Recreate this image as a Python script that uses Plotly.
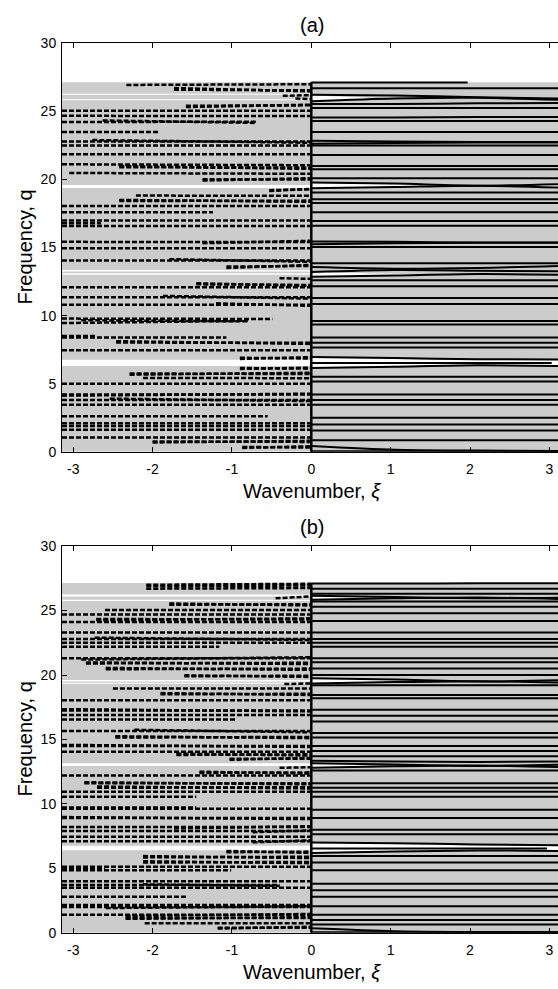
import numpy as np
import plotly.graph_objects as go

PI = np.pi
XI_RANGE = [-PI, 3.109]
Q_RANGE = [0, 30]
BAND_TOP = 27.15
RE_XI = [0.0, 1.05, 2.1, PI]
XTICKS = [-3, -2, -1, 0, 1, 2, 3]
YTICKS = [0, 5, 10, 15, 20, 25, 30]

# ---------------- panel (a) ----------------
# evanescent branches: (xi_left, xi_right, q_left, q_right)
A_IM = [
    (-2.33, 0, 26.95, 27.0),
    (-1.73, 0, 26.6, 26.55), (-1.73, 0, 26.72, 26.48),
    (-0.36, 0, 26.15, 26.2),
    (-0.2, 0, 25.95, 25.9),
    (-1.58, 0, 25.42, 25.45), (-1.58, 0, 25.32, 25.5),
    (-PI, 0, 25.05, 25.05),
    (-PI, 0, 24.68, 24.66),
    (-PI, -0.7, 24.22, 24.25), (-2.63, -0.7, 24.34, 24.16),
    (-PI, -1.91, 23.5, 23.5),
    (-PI, 0, 22.8, 22.8), (-2.76, 0, 22.9, 22.7),
    (-PI, 0, 22.5, 22.5),
    (-PI, 0, 21.85, 21.85),
    (-PI, 0, 21.12, 21.05),
    (-2.42, 0, 20.9, 20.88), (-2.42, 0, 20.98, 20.78),
    (-3.05, 0, 20.48, 20.42),
    (-1.37, 0, 20.02, 20.0), (-1.37, 0, 19.92, 20.1),
    (-0.53, 0, 19.22, 19.28), (-0.53, 0, 19.15, 19.32),
    (-2.21, 0, 18.82, 18.8),
    (-2.42, 0, 18.42, 18.45), (-2.42, 0, 18.5, 18.36),
    (-PI, 0, 18.05, 18.05),
    (-PI, -1.24, 17.6, 17.6),
    (-PI, 0, 16.98, 16.98), (-PI, -2.65, 16.78, 16.78), (-PI, 0, 16.58, 16.58),
    (-PI, 0, 15.42, 15.4), (-1.37, 0, 15.32, 15.5),
    (-PI, 0, 14.95, 14.95),
    (-PI, 0, 14.05, 14.05), (-1.79, 0, 14.15, 13.95),
    (-1.07, 0, 13.6, 13.65), (-1.07, 0, 13.5, 13.72),
    (-0.4, 0, 12.75, 12.7),
    (-1.45, 0, 12.3, 12.25), (-1.45, 0, 12.38, 12.18),
    (-PI, 0, 12.08, 12.08),
    (-PI, 0, 11.35, 11.35), (-1.87, 0, 11.45, 11.25),
    (-PI, 0, 10.8, 10.8), (-1.2, 0, 10.9, 10.72),
    (-PI, -0.49, 9.78, 9.75),
    (-PI, -0.8, 9.45, 9.62), (-2.9, -0.8, 9.66, 9.58),
    (-PI, -1.07, 8.4, 8.4), (-PI, -2.7, 8.5, 8.5),
    (-2.46, 0, 8.02, 8.0), (-2.46, 0, 8.12, 7.92),
    (-PI, 0, 7.45, 7.45),
    (-0.9, 0, 6.9, 6.85), (-0.9, 0, 6.82, 6.95),
    (-0.9, 0, 6.15, 6.1), (-0.9, 0, 6.08, 6.18),
    (-2.29, 0, 5.75, 5.7), (-2.29, 0, 5.66, 5.8),
    (-2.12, 0, 5.42, 5.4),
    (-PI, 0, 5.0, 5.0),
    (-PI, 0, 4.2, 4.2), (-PI, 0, 4.12, 4.26),
    (-PI, 0, 3.8, 3.8), (-2.54, 0, 3.9, 3.72),
    (-PI, 0, 3.45, 3.45),
    (-PI, -0.55, 2.6, 2.6),
    (-PI, 0, 2.1, 2.1), (-PI, 0, 1.88, 1.88), (-PI, 0, 1.62, 1.62),
    (-PI, 0, 1.05, 1.05),
    (-2.0, 0, 0.75, 0.72), (-2.0, 0, 0.68, 0.8),
    (-0.87, 0, 0.35, 0.3), (-0.87, 0, 0.28, 0.4),
]

# propagating branches: q at RE_XI
A_RE = [
    (26.7, 26.7, 26.7, 26.7),
    (26.22, 26.18, 26.05, 25.95),
    (25.75, 25.95, 26.0, 25.85),
    (25.55, 25.55, 25.6, 25.62),
    (25.25, 25.25, 25.25, 25.25),
    (24.55, 24.55, 24.6, 24.6),
    (24.3, 24.3, 24.3, 24.3),
    (23.5, 23.5, 23.5, 23.5),
    (22.85, 22.8, 22.75, 22.75),
    (22.62, 22.68, 22.72, 22.72),
    (22.5, 22.5, 22.5, 22.5),
    (21.8, 21.8, 21.8, 21.8),
    (21.0, 21.0, 21.0, 21.0),
    (20.75, 20.75, 20.75, 20.75),
    (20.1, 20.1, 20.1, 20.1),
    (19.78, 19.7, 19.55, 19.66),
    (19.36, 19.45, 19.55, 19.4),
    (19.05, 19.05, 19.05, 19.05),
    (18.55, 18.55, 18.55, 18.55),
    (18.27, 18.27, 18.27, 18.27),
    (17.6, 17.6, 17.6, 17.6),
    (16.95, 16.95, 16.95, 16.95),
    (16.6, 16.6, 16.6, 16.6),
    (15.45, 15.42, 15.38, 15.38),
    (15.25, 15.32, 15.36, 15.36),
    (15.05, 15.05, 15.05, 15.05),
    (13.85, 13.85, 13.85, 13.85),
    (13.57, 13.45, 13.5, 13.65),
    (13.2, 13.35, 13.3, 13.25),
    (12.85, 12.95, 13.05, 13.0),
    (12.6, 12.6, 12.6, 12.6),
    (12.15, 12.15, 12.15, 12.15),
    (11.3, 11.3, 11.3, 11.3),
    (10.85, 10.85, 10.85, 10.85),
    (9.6, 9.6, 9.6, 9.6),
    (9.35, 9.35, 9.35, 9.35),
    (8.4, 8.4, 8.4, 8.4),
    (8.0, 8.0, 8.0, 8.0),
    (7.65, 7.65, 7.65, 7.65),
    (6.95, 6.88, 6.8, 6.78),
    (6.15, 6.25, 6.35, 6.3),
    (5.5, 5.5, 5.5, 5.5),
    (5.15, 5.15, 5.15, 5.15),
    (4.2, 4.2, 4.2, 4.2),
    (3.8, 3.8, 3.8, 3.8),
    (3.45, 3.45, 3.45, 3.45),
    (2.5, 2.5, 2.5, 2.5),
    (2.0, 2.0, 2.0, 2.0),
    (1.55, 1.55, 1.55, 1.55),
    (0.85, 0.85, 0.85, 0.85),
    (0.42, 0.14, 0.08, 0.06),
    (0.04, 0.04, 0.04, 0.04),
]
# propagating branches that stop before the zone edge: (xi_end, q)
A_RE_SHORT = [(1.97, 27.12), (3.03, 6.52)]

# stop bands: (xi, q_lower, q_upper)
A_GAPS = [
    ([-PI, 0], [26.22, 26.22], [26.3, 26.3]),
    ([-PI, 0], [25.82, 25.82], [25.9, 25.9]),
    ([0, 0.9], [25.78, 25.98], [26.18, 25.98]),
    ([-PI, 0], [19.38, 19.38], [19.6, 19.6]),
    ([0, 1.95], [19.4, 19.55], [19.75, 19.55]),
    ([2.5, PI], [19.5, 19.44], [19.5, 19.62]),
    ([-PI, 0], [13.0, 13.0], [13.12, 13.12]),
    ([-PI, 0], [13.25, 13.25], [13.35, 13.35]),
    ([0, 1.6], [12.88, 13.02], [13.17, 13.02]),
    ([-PI, 0], [6.3, 6.3], [6.75, 6.75]),
    ([0, 1.0, 2.0, PI], [6.2, 6.3, 6.4, 6.35], [6.9, 6.8, 6.72, 6.72]),
]

# ---------------- panel (b) ----------------
B_IM = [
    (-2.08, 0, 27.0, 27.08), (-2.08, 0, 26.88, 26.95),
    (-2.08, 0, 26.7, 26.75),
    (-0.45, 0, 25.95, 26.1),
    (-1.79, 0, 25.45, 25.5), (-1.79, 0, 25.55, 25.4),
    (-2.6, 0, 25.05, 25.05),
    (-PI, 0, 24.7, 24.7),
    (-2.71, 0, 24.35, 24.3), (-2.71, 0, 24.25, 24.4),
    (-PI, 0, 24.12, 24.12),
    (-PI, 0, 23.3, 23.3),
    (-PI, 0, 22.8, 22.8), (-2.73, 0, 22.9, 22.72),
    (-PI, 0, 22.5, 22.5),
    (-PI, -1.16, 22.2, 22.2),
    (-PI, 0, 21.3, 21.3), (-2.9, 0, 21.2, 21.38),
    (-2.84, 0, 20.9, 20.95), (-2.84, 0, 20.98, 20.85),
    (-2.59, 0, 20.45, 20.5), (-2.59, 0, 20.55, 20.4),
    (-1.6, 0, 19.9, 19.95), (-1.6, 0, 19.98, 19.85),
    (-0.34, 0, 19.3, 19.35),
    (-2.5, 0, 18.95, 18.95),
    (-1.9, 0, 18.5, 18.55), (-1.9, 0, 18.6, 18.45),
    (-PI, 0, 18.05, 18.05),
    (-PI, 0, 17.25, 17.25), (-PI, 0, 17.35, 17.18),
    (-PI, 0, 16.9, 16.9),
    (-PI, -0.95, 16.55, 16.55),
    (-PI, 0, 15.65, 15.65), (-2.23, 0, 15.75, 15.55),
    (-2.47, 0, 15.15, 15.2), (-2.47, 0, 15.25, 15.1),
    (-PI, 0, 14.5, 14.5), (-PI, 0, 14.58, 14.42),
    (-PI, 0, 14.05, 14.05),
    (-1.7, 0, 13.8, 13.85), (-1.7, 0, 13.9, 13.75),
    (-1.03, 0, 13.5, 13.5), (-1.03, 0, 13.42, 13.58),
    (-0.4, 0, 12.8, 12.85),
    (-1.41, 0, 12.4, 12.45), (-1.41, 0, 12.5, 12.35),
    (-PI, 0, 12.2, 12.2),
    (-2.86, 0, 11.6, 11.6), (-2.86, 0, 11.68, 11.52),
    (-2.7, 0, 11.25, 11.3), (-2.7, 0, 11.35, 11.2),
    (-PI, 0, 10.95, 10.95),
    (-PI, -1.45, 10.55, 10.55),
    (-PI, 0, 9.62, 9.62), (-PI, -1.45, 9.72, 9.72),
    (-PI, 0, 8.9, 8.9), (-PI, 0, 8.98, 8.82),
    (-PI, 0, 8.2, 8.2), (-1.73, 0, 8.1, 8.27),
    (-PI, 0, 7.9, 7.9), (-0.74, 0, 7.8, 7.95),
    (-PI, 0, 7.45, 7.45),
    (-PI, 0, 7.1, 7.1), (-0.74, 0, 7.02, 7.18),
    (-1.07, 0, 6.25, 6.3), (-1.07, 0, 6.35, 6.2),
    (-2.12, 0, 5.85, 5.9), (-2.12, 0, 5.95, 5.8),
    (-2.12, 0, 5.45, 5.5), (-2.12, 0, 5.55, 5.4),
    (-PI, 0, 5.12, 5.12), (-PI, -2.6, 5.0, 5.0),
    (-PI, -1.01, 4.85, 4.85),
    (-PI, 0, 4.0, 4.0),
    (-PI, -0.4, 3.7, 3.7), (-2.12, -0.4, 3.76, 3.64),
    (-PI, 0, 3.5, 3.5),
    (-PI, -1.58, 2.8, 2.8),
    (-PI, 0, 2.15, 2.15),
    (-PI, 0, 2.0, 2.0), (-2.59, 0, 1.92, 2.06),
    (-PI, 0, 1.4, 1.4), (-2.34, 0, 1.3, 1.46),
    (-2.34, 0, 1.15, 1.15), (-2.34, 0, 1.08, 1.22),
    (-2.1, 0, 0.75, 0.75),
    (-1.18, 0, 0.4, 0.4), (-1.18, 0, 0.33, 0.47),
]

B_RE = [
    (27.1, 27.1, 27.12, 27.12),
    (26.7, 26.7, 26.7, 26.7),
    (26.3, 26.3, 26.3, 26.3),
    (26.15, 26.05, 25.95, 26.0),
    (25.85, 25.95, 26.02, 25.9),
    (25.7, 25.7, 25.7, 25.7),
    (25.3, 25.3, 25.3, 25.3),
    (24.8, 24.8, 24.8, 24.8),
    (24.2, 24.2, 24.2, 24.2),
    (23.3, 23.3, 23.3, 23.3),
    (22.8, 22.8, 22.8, 22.8),
    (22.5, 22.5, 22.5, 22.5),
    (22.2, 22.2, 22.2, 22.2),
    (21.3, 21.3, 21.3, 21.3),
    (21.0, 21.0, 21.0, 21.0),
    (20.5, 20.5, 20.5, 20.5),
    (20.0, 20.0, 20.0, 20.0),
    (19.75, 19.65, 19.5, 19.6),
    (19.35, 19.45, 19.52, 19.42),
    (19.2, 19.2, 19.2, 19.2),
    (18.45, 18.45, 18.45, 18.45),
    (18.2, 18.2, 18.2, 18.2),
    (17.3, 17.3, 17.3, 17.3),
    (16.85, 16.85, 16.85, 16.85),
    (16.4, 16.4, 16.4, 16.4),
    (15.5, 15.5, 15.5, 15.5),
    (15.15, 15.15, 15.15, 15.15),
    (14.5, 14.5, 14.5, 14.5),
    (14.1, 14.1, 14.1, 14.1),
    (13.7, 13.7, 13.7, 13.7),
    (13.35, 13.3, 13.25, 13.3),
    (13.15, 13.05, 12.95, 13.05),
    (12.8, 12.92, 12.98, 12.85),
    (12.6, 12.6, 12.6, 12.6),
    (11.6, 11.6, 11.6, 11.6),
    (11.25, 11.25, 11.25, 11.25),
    (10.95, 10.95, 10.95, 10.95),
    (10.55, 10.55, 10.55, 10.55),
    (9.55, 9.55, 9.55, 9.55),
    (8.9, 8.9, 8.9, 8.9),
    (8.0, 8.0, 8.0, 8.0),
    (7.65, 7.65, 7.65, 7.65),
    (7.0, 6.95, 6.85, 6.8),
    (6.2, 6.3, 6.38, 6.35),
    (5.95, 5.95, 5.95, 5.95),
    (5.45, 5.45, 5.45, 5.45),
    (4.85, 4.85, 4.85, 4.85),
    (3.8, 3.8, 3.8, 3.8),
    (3.3, 3.3, 3.3, 3.3),
    (2.8, 2.8, 2.8, 2.8),
    (2.05, 2.05, 2.05, 2.05),
    (1.4, 1.4, 1.4, 1.4),
    (1.0, 1.0, 1.0, 1.0),
    (0.65, 0.65, 0.65, 0.65),
    (0.35, 0.12, 0.06, 0.05),
    (0.04, 0.04, 0.04, 0.04),
]
B_RE_SHORT = [(2.97, 6.55)]

B_GAPS = [
    ([-PI, 0], [26.1, 26.1], [26.25, 26.25]),
    ([-PI, 0], [25.75, 25.75], [25.85, 25.85]),
    ([0, 0.85], [25.85, 26.0], [26.15, 26.0]),
    ([-PI, 0], [19.5, 19.5], [19.62, 19.62]),
    ([-PI, 0], [19.32, 19.32], [19.4, 19.4]),
    ([0, 1.7], [19.35, 19.5], [19.75, 19.5]),
    ([2.4, PI], [19.5, 19.45], [19.5, 19.6]),
    ([-PI, 0], [12.95, 12.95], [13.15, 13.15]),
    ([0, 0.8], [12.8, 13.0], [13.15, 13.0]),
    ([-PI, 0], [6.4, 6.4], [6.75, 6.75]),
    ([0, 1.0, 2.0, PI], [6.2, 6.32, 6.42, 6.38], [7.0, 6.9, 6.78, 6.75]),
]

PANELS = [
    dict(label="(a)", im=A_IM, re=A_RE, short=A_RE_SHORT, gaps=A_GAPS),
    dict(label="(b)", im=B_IM, re=B_RE, short=B_RE_SHORT, gaps=B_GAPS),
]

W, H = 558, 989
# plot-area pixel boxes (left, right, top, bottom)
BOXES = [(62, 558, 36, 451), (62, 558, 547, 940)]
X_ZERO_PX = 312  # horizontal centre used for panel titles

GRAY = "rgb(204,204,204)"
FONT = "Liberation Sans, Arial, Helvetica, sans-serif"

fig = go.Figure()

for i, (panel, box) in enumerate(zip(PANELS, BOXES), start=1):
    xa = "x" if i == 1 else f"x{i}"
    ya = "y" if i == 1 else f"y{i}"

    # pass-band shading
    fig.add_trace(go.Scatter(
        x=[-PI, PI, PI, -PI, -PI], y=[0, 0, BAND_TOP, BAND_TOP, 0],
        fill="toself", fillcolor=GRAY, line=dict(width=0),
        mode="lines", xaxis=xa, yaxis=ya, hoverinfo="skip"))

    # stop bands
    for xs, lo, hi in panel["gaps"]:
        px = list(xs) + list(xs)[::-1] + [xs[0]]
        py = list(lo) + list(hi)[::-1] + [lo[0]]
        fig.add_trace(go.Scatter(
            x=px, y=py, fill="toself", fillcolor="white",
            line=dict(width=0, color="white"), mode="lines",
            xaxis=xa, yaxis=ya, hoverinfo="skip"))

    # evanescent branches (dashed, xi < 0)
    for x0, x1, q0, q1 in panel["im"]:
        fig.add_trace(go.Scatter(
            x=[x0, x1], y=[q0, q1], mode="lines",
            line=dict(color="black", width=2.5, dash="5px,2px"),
            xaxis=xa, yaxis=ya, hoverinfo="skip"))

    # propagating branches (solid, xi > 0)
    for qs in panel["re"]:
        fig.add_trace(go.Scatter(
            x=RE_XI, y=list(qs), mode="lines",
            line=dict(color="black", width=2, shape="spline", smoothing=0.8),
            xaxis=xa, yaxis=ya, hoverinfo="skip"))
    for xe, q in panel["short"]:
        fig.add_trace(go.Scatter(
            x=[0, xe], y=[q, q], mode="lines",
            line=dict(color="black", width=2),
            xaxis=xa, yaxis=ya, hoverinfo="skip"))

    # branch junction at xi = 0
    fig.add_trace(go.Scatter(
        x=[0, 0], y=[0, BAND_TOP], mode="lines",
        line=dict(color="black", width=2.5),
        xaxis=xa, yaxis=ya, hoverinfo="skip"))

    l, r, t, b = box
    axis_common = dict(
        showgrid=False, zeroline=False, showline=True, linecolor="black",
        linewidth=1, ticks="inside", ticklen=5, tickcolor="black",
        tickfont=dict(family=FONT, size=14, color="black"),
    )
    fig.layout[f"xaxis{'' if i == 1 else i}"] = dict(
        axis_common, domain=[l / W, r / W], range=XI_RANGE,
        tickvals=XTICKS, ticktext=[str(v) for v in XTICKS],
        mirror="ticks", anchor=ya, ticklabelstandoff=4)
    fig.layout[f"yaxis{'' if i == 1 else i}"] = dict(
        axis_common, domain=[1 - b / H, 1 - t / H], range=Q_RANGE,
        tickvals=YTICKS, ticktext=[str(v) for v in YTICKS],
        mirror=False, anchor=xa, ticklabelstandoff=2)

    cy = (t + b) / 2
    fig.add_annotation(text=panel["label"], x=X_ZERO_PX / W, y=1 - (t - 19) / H,
                       xref="paper", yref="paper", showarrow=False,
                       font=dict(family=FONT, size=20, color="black"),
                       xanchor="center", yanchor="middle")
    fig.add_annotation(text="Wavenumber, <i>ξ</i>", x=X_ZERO_PX / W,
                       y=1 - (b + 40) / H, xref="paper", yref="paper",
                       showarrow=False,
                       font=dict(family=FONT, size=20, color="black"),
                       xanchor="center", yanchor="middle")
    fig.add_annotation(text="Frequency, q", x=25 / W, y=1 - cy / H,
                       xref="paper", yref="paper", showarrow=False,
                       textangle=-90,
                       font=dict(family=FONT, size=20, color="black"),
                       xanchor="center", yanchor="middle")

fig.update_layout(
    width=W, height=H, margin=dict(l=0, r=0, t=0, b=0),
    paper_bgcolor="white", plot_bgcolor="white", showlegend=False,
)

fig.write_html("out.html", config={"displayModeBar": False})
